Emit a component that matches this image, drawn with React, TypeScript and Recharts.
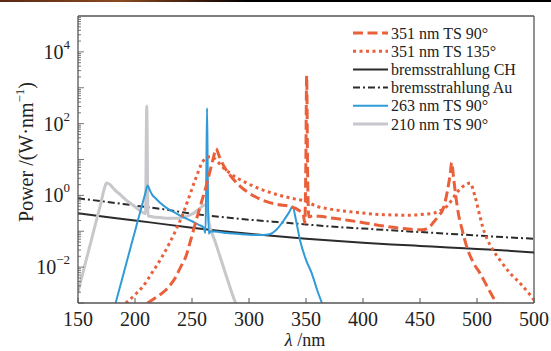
import React from "react";
import { LineChart, Line, XAxis, YAxis, ReferenceLine, Legend } from "recharts";

const FONT = '"Liberation Serif", "DejaVu Serif", serif';
const AXIS = "#555";

// bremsstrahlung, sampled every 25 nm
const bremsLambda = [150, 175, 200, 225, 250, 275, 300, 325, 350, 375, 400, 425, 450, 475, 500, 525, 550];
const bremsCH = [0.316, 0.25, 0.2, 0.158, 0.126, 0.102, 0.085, 0.072, 0.062, 0.054, 0.048, 0.043, 0.039, 0.0355, 0.032, 0.029, 0.0257];
const bremsAu = [0.83, 0.66, 0.52, 0.41, 0.31, 0.25, 0.21, 0.18, 0.155, 0.133, 0.119, 0.106, 0.095, 0.085, 0.076, 0.068, 0.062];

// Thomson scattering spectra, [lambda (nm), power]
const ts351_90: [number, number][] = [
  [211, 0.001], [218, 0.0014], [227, 0.0023], [232, 0.0035], [236, 0.0055], [240, 0.01],
  [244.7, 0.02], [248, 0.045], [250.6, 0.089], [254, 0.22], [258, 0.6], [262.3, 1.76],
  [266, 5], [269, 12], [271, 20], [274, 12], [278, 6.5], [283.3, 3.7], [290, 2.1],
  [298, 1.28], [306, 0.9], [315.5, 0.67], [325, 0.56], [336, 0.49], [344, 0.38],
  [347.5, 0.3], [349, 0.17], [349.8, 5], [350.6, 2150], [351.4, 5], [352.5, 0.25],
  [356, 0.27], [362, 0.26], [374, 0.23], [388, 0.2], [403, 0.168], [418, 0.14],
  [432, 0.123], [445, 0.112], [452, 0.11], [458, 0.13], [462, 0.18], [466, 0.26],
  [470.5, 0.44], [474, 1.3], [476.5, 4], [477.8, 8.2], [479.5, 3], [481.5, 0.9],
  [483.6, 0.32], [487, 0.11], [491, 0.037], [497, 0.013], [502.6, 0.0068], [510, 0.0025],
  [517, 0.001], [520, 0.0007],
];
const ts351_135: [number, number][] = [
  [192, 0.001], [200, 0.0017], [207, 0.0029], [215, 0.007], [224, 0.02], [230, 0.045],
  [236, 0.11], [242, 0.3], [247.6, 0.93], [253, 2.8], [259.4, 8.7], [263, 11.5], [266, 12],
  [270, 10.5], [276, 6.5], [283, 4.2], [290, 3], [298, 2.2], [310, 1.5], [327, 1.0],
  [340, 0.8], [350, 0.68], [359, 0.5], [370, 0.42], [389, 0.35], [418, 0.29], [440, 0.28],
  [455, 0.3], [462, 0.32], [468, 0.38], [473.4, 0.49], [478, 0.75], [482, 1.15], [488, 1.8],
  [494, 2.2], [498, 1.0], [502.6, 0.26], [505, 0.13], [508.5, 0.065], [514, 0.03],
  [520, 0.016], [529, 0.0068], [538, 0.0035], [546.5, 0.0017], [552, 0.001],
];
const ts263_90: [number, number][] = [
  [183, 0.001], [190, 0.0066], [195, 0.026], [200, 0.1], [204, 0.3], [207, 0.66], [209, 1.13],
  [211, 1.9], [213, 1.4], [215, 1.05], [218, 0.83], [222, 0.62], [228, 0.44], [235, 0.33],
  [242, 0.25], [250, 0.19], [256, 0.15], [260, 0.13], [261.8, 0.09], [262.6, 5], [263.2, 270],
  [263.8, 5], [264.6, 0.085], [266.5, 0.1], [270, 0.098], [280, 0.09], [290, 0.085],
  [300, 0.08], [312, 0.078], [318, 0.082], [324, 0.11], [330, 0.19], [335, 0.33],
  [338.3, 0.49], [341, 0.22], [344.7, 0.057], [350, 0.016], [355, 0.0068], [360, 0.0022],
  [364, 0.001],
];
const ts210_90: [number, number][] = [
  [150, 0.002], [155, 0.0085], [160, 0.035], [165, 0.145], [170, 0.6], [173, 1.5], [175, 2.2],
  [178, 2.0], [182, 1.45], [187, 1.05], [192, 0.75], [197, 0.57], [202, 0.43], [207, 0.33],
  [209.2, 0.31], [210.3, 310], [211.4, 0.27], [215, 0.255], [222, 0.24], [230, 0.23],
  [238, 0.23], [245, 0.26], [252, 0.33], [257, 0.44], [261, 0.54], [263, 0.45], [265, 0.17],
  [270, 0.055], [275, 0.018], [280, 0.0058], [285, 0.0019], [290, 0.0007],
];

const xTicks = [150, 200, 250, 300, 350, 400, 450, 500, 550];
const xTickLabels = ["150", "200", "250", "300", "350", "400", "450", "500", "500"];
const yLabelTicks = [1e-2, 1, 1e2, 1e4];
const yTickExponents = ["\u22122", "0", "2", "4"];

// log minor ticks 1..9 x 10^k
const yTicks: number[] = [];
for (let k = -3; k <= 4; k++) {
  for (let m = 1; m <= 9; m++) yTicks.push(m * Math.pow(10, k));
}

const toPts = (pairs: [number, number][]) => pairs.map(([x, y]) => ({ x, y }));
const brems = (vals: number[]) => bremsLambda.map((x, i) => ({ x, y: vals[i] }));

const series = [
  { name: "351 nm TS 90\u00b0", data: toPts(ts351_90), color: "#e9603b", width: 3, dash: "10 4.5" },
  { name: "351 nm TS 135\u00b0", data: toPts(ts351_135), color: "#e9603b", width: 3, dash: "3 3.5" },
  { name: "bremsstrahlung CH", data: brems(bremsCH), color: "#2b2b2b", width: 2, dash: undefined },
  { name: "bremsstrahlung Au", data: brems(bremsAu), color: "#2b2b2b", width: 2, dash: "7 3 2 3" },
  { name: "263 nm TS 90\u00b0", data: toPts(ts263_90), color: "#2f9bd7", width: 2, dash: undefined },
  { name: "210 nm TS 90\u00b0", data: toPts(ts210_90), color: "#c8c8cc", width: 3, dash: undefined },
];
const drawOrder = [2, 3, 5, 4, 1, 0];

const XTick = (props: any) => {
  const { x, y, payload } = props;
  const i = xTicks.indexOf(payload.value);
  return (
    <g>
      <line x1={x} x2={x} y1={y} y2={y - 5} stroke={AXIS} strokeWidth={1} />
      <text x={x} y={y + 23} textAnchor="middle" fontSize={20} fontFamily={FONT} fill="#222">
        {xTickLabels[i]}
      </text>
    </g>
  );
};

const YTick = (props: any) => {
  const { x, y, payload } = props;
  const lg = Math.log10(payload.value);
  const decade = Math.abs(lg - Math.round(lg)) < 1e-6;
  const i = yLabelTicks.findIndex((t) => Math.abs(Math.log10(t) - lg) < 1e-6);
  return (
    <g>
      <line x1={x} x2={x + (decade ? 6 : 3)} y1={y} y2={y} stroke={AXIS} strokeWidth={0.8} />
      {i >= 0 && (
        <text x={x - 8} y={y + 7} textAnchor="end" fontSize={20} fontFamily={FONT} fill="#222">
          10
          <tspan dy={-10} fontSize={13}>{yTickExponents[i]}</tspan>
        </text>
      )}
    </g>
  );
};

const LegendBox = () => (
  <svg width={190} height={115}>
    {series.map((s, i) => {
      const cy = 9 + i * 18.2;
      return (
        <g key={s.name}>
          <line x1={3} x2={38} y1={cy} y2={cy} stroke={s.color} strokeWidth={s.width} strokeDasharray={s.dash} />
          <text x={41} y={cy + 5.5} fontSize={16} fontFamily={FONT} fill="#222">
            {s.name}
          </text>
        </g>
      );
    })}
  </svg>
);

export default function App() {
  return (
    <div style={{ position: "absolute", left: 0, top: 0, width: 551, height: 351, background: "#fff" }}>
      <div
        style={{
          position: "absolute", left: 0, top: 0, width: 551, height: 2,
          background: "linear-gradient(90deg, #5a2812 0%, #8a4a22 22%, #3a1a0a 36%, #000 45%, #000 100%)",
        }}
      />
      <LineChart width={551} height={351} margin={{ top: 16, right: 17, bottom: 18, left: 18 }}>
        <XAxis
          dataKey="x"
          type="number"
          domain={[150, 550]}
          ticks={xTicks}
          interval={0}
          allowDataOverflow
          tickLine={false}
          tickSize={0}
          tickMargin={0}
          height={30}
          axisLine={{ stroke: AXIS, strokeWidth: 1.3 }}
          tick={<XTick />}
          label={{
            content: () => (
              <text x={305} y={346} textAnchor="middle" fontSize={18} fontFamily={FONT} fill="#222">
                <tspan fontStyle="italic">{"\u03bb"}</tspan> /nm
              </text>
            ),
          }}
        />
        <YAxis
          type="number"
          scale="log"
          domain={[1e-3, 1e5]}
          ticks={yTicks}
          interval={0}
          allowDataOverflow
          tickLine={false}
          tickSize={0}
          tickMargin={0}
          width={60}
          axisLine={{ stroke: AXIS, strokeWidth: 1.3 }}
          tick={<YTick />}
          label={{
            content: () => (
              <text
                x={26}
                y={152}
                transform="rotate(-90 26 152)"
                textAnchor="middle"
                dominantBaseline="central"
                fontSize={20}
                fontFamily={FONT}
                fill="#222"
              >
                Power /(W{"\u00b7"}nm
                <tspan dy={-7} fontSize={13}>{"\u22121"}</tspan>
                <tspan dy={7}>)</tspan>
              </text>
            ),
          }}
        />
        <ReferenceLine y={1e5} stroke={AXIS} strokeWidth={1.3} />
        <ReferenceLine x={550} stroke={AXIS} strokeWidth={1.3} />
        {drawOrder.map((i) => {
          const s = series[i];
          return (
            <Line
              key={s.name}
              data={s.data}
              dataKey="y"
              name={s.name}
              type="monotone"
              stroke={s.color}
              strokeWidth={s.width}
              strokeDasharray={s.dash}
              dot={false}
              activeDot={false}
              isAnimationActive={false}
            />
          );
        })}
        <Legend
          layout="vertical"
          align="center"
          verticalAlign="middle"
          content={<LegendBox />}
          wrapperStyle={{ left: 350, top: 24, width: 190, height: 115 }}
        />
      </LineChart>
    </div>
  );
}
